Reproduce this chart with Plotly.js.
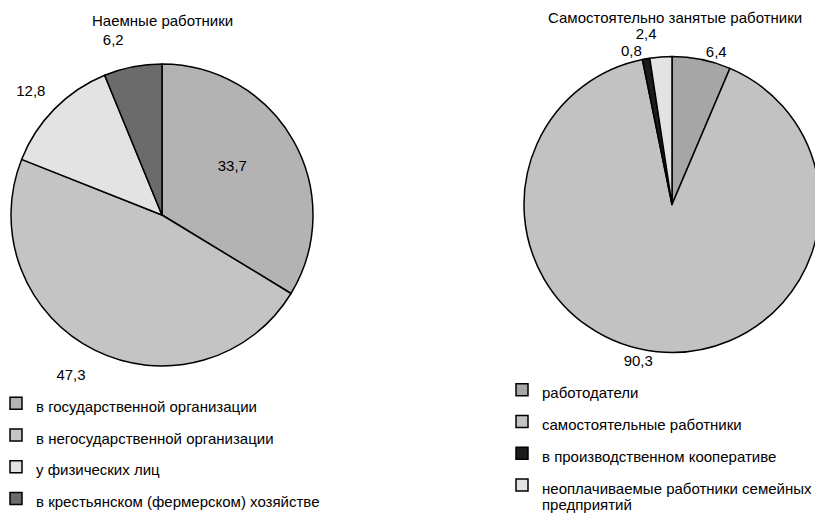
<!DOCTYPE html>
<html><head><meta charset="utf-8">
<script src="https://cdn.plot.ly/plotly-3.0.1.min.js"></script>
<style>
html,body{margin:0;padding:0;overflow:hidden;width:815px;height:515px;background:#fff}
#chart{position:absolute;left:-20px;top:0;width:850px;height:540px}
path.textline{display:none !important}
</style>
</head><body><div id="chart"></div>
<script>
// ---- data ----
const hiredTitle = 'Наемные работники';
const hiredCategories = [
  ['в государственной организации'],
  ['в негосударственной организации'],
  ['у физических лиц'],
  ['в крестьянском (фермерском) хозяйстве']
];
const hiredValues = [33.7, 47.3, 12.8, 6.2];
const hiredColors = ['#b3b3b3', '#c4c4c4', '#e3e3e3', '#6b6b6b'];
const hiredTextPos = ['inside', 'outside', 'outside', 'outside'];

const selfTitle = 'Самостоятельно занятые работники';
const selfCategories = [
  ['работодатели'],
  ['самостоятельные работники'],
  ['в производственном кооперативе'],
  ['неоплачиваемые работники семейных', 'предприятий']
];
const selfValues = [6.4, 90.3, 0.8, 2.4];
const selfColors = ['#a6a6a6', '#c2c2c2', '#1c1c1c', '#e3e3e3'];

// ---- style / layout helpers (page pixels -> paper) ----
const W = 850, H = 540, OX = 20;
const px = x => (x + OX) / W;
const py = y => 1 - y / H;
const FONT = 'Arial, "Liberation Sans", sans-serif';
const FS = 15;
const legLabel = lines => '<span style="font-size:' + FS + 'px">' + lines[0] + '</span>';
// label templates: a blank line pushes a label away from the pie, as in the original
const VAL = '%{value:.1f}';
const SP = '\u00a0';
const away = {none: VAL, down: SP + '<br>' + VAL, up: VAL + '<br>' + SP};
const hiredLabelShift = ['up', 'down', 'up', 'up'];
const selfLabelShift = ['none', 'none', 'none', 'none'];

function pieTrace(cats, vals, colors, textpos, shifts, cx, cy, r, legendId) {
  return {
    type: 'pie',
    labels: cats.map(legLabel),
    values: vals,
    sort: false,
    direction: 'clockwise',
    rotation: 0,
    marker: {colors: colors, line: {color: '#000', width: 1.5}},
    texttemplate: shifts.map(s => away[s]),
    textposition: textpos,
    insidetextorientation: 'horizontal',
    textfont: {family: FONT, size: FS, color: '#000'},
    hoverinfo: 'skip',
    domain: {x: [px(cx - r), px(cx + r)], y: [py(cy + r), py(cy - r)]},
    legend: legendId,
    showlegend: true
  };
}

const traces = [
  pieTrace(hiredCategories, hiredValues, hiredColors, hiredTextPos, hiredLabelShift, 162, 215, 151, 'legend'),
  pieTrace(selfCategories, selfValues, selfColors, 'outside', selfLabelShift, 672, 204.5, 148, 'legend2')
];

const annotations = [
  {text: hiredTitle, x: px(162), y: py(21), xref: 'paper', yref: 'paper', xanchor: 'center', yanchor: 'middle', showarrow: false, font: {family: FONT, size: FS, color: '#000'}},
  {text: selfTitle, x: px(675), y: py(18), xref: 'paper', yref: 'paper', xanchor: 'center', yanchor: 'middle', showarrow: false, font: {family: FONT, size: FS, color: '#000'}}
];
// continuation lines of wrapped legend labels
selfCategories.forEach((lines, i) => {
  lines.slice(1).forEach((ln, j) => {
    annotations.push({text: ln, x: px(540), y: py(488 + 16 * (j + 1)), xref: 'paper', yref: 'paper', xanchor: 'left', yanchor: 'middle', showarrow: false, font: {family: FONT, size: FS, color: '#000'}});
  });
});

const legFont = {family: FONT, size: 22.1, color: '#000'};
const layout = {
  width: W, height: H,
  margin: {l: 0, r: 0, t: 0, b: 0},
  paper_bgcolor: '#fff',
  separators: ', ',
  font: {family: FONT, size: FS, color: '#000'},
  legend: {x: px(-4), y: py(382.5), xanchor: 'left', yanchor: 'top', font: legFont, bgcolor: 'rgba(0,0,0,0)', traceorder: 'normal'},
  legend2: {x: px(502), y: py(369), xanchor: 'left', yanchor: 'top', font: legFont, bgcolor: 'rgba(0,0,0,0)', traceorder: 'normal'},
  annotations: annotations
};

Plotly.newPlot('chart', traces, layout, {displayModeBar: false, staticPlot: true});
</script>
</body></html>
